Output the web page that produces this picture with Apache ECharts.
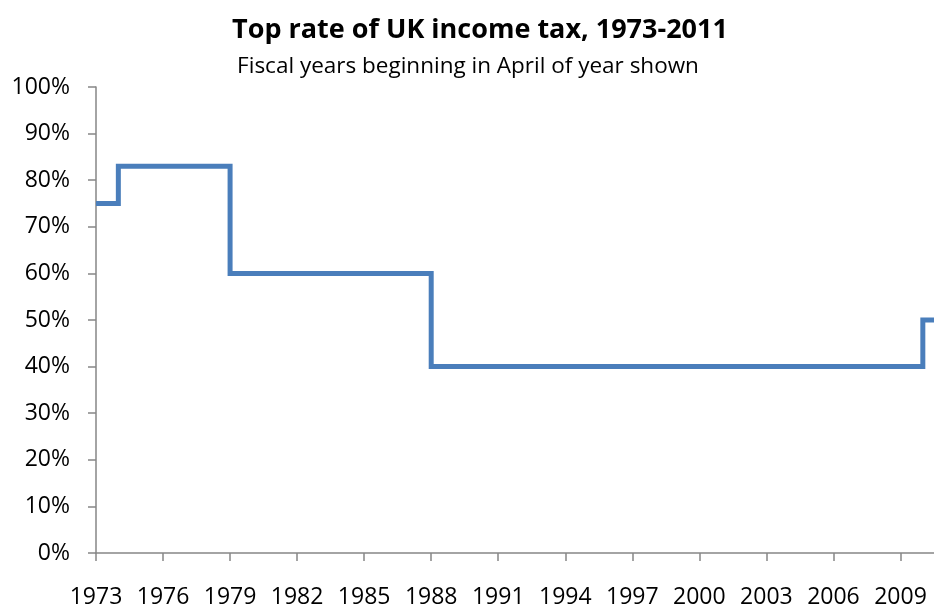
<!DOCTYPE html>
<html>
<head>
<meta charset="utf-8">
<script src="https://cdn.jsdelivr.net/npm/echarts@6/dist/echarts.min.js"></script>
<style>
html,body{margin:0;padding:0;background:#fff;}
#chart{width:934px;height:609px;}
</style>
</head>
<body>
<div id="chart"></div>
<script>
const titleText = 'Top rate of UK income tax, 1973-2011';
const subtitleText = 'Fiscal years beginning in April of year shown';
const years = [1973,1974,1975,1976,1977,1978,1979,1980,1981,1982,1983,1984,1985,1986,1987,1988,1989,1990,1991,1992,1993,1994,1995,1996,1997,1998,1999,2000,2001,2002,2003,2004,2005,2006,2007,2008,2009,2010,2011];
const topRate = [75,83,83,83,83,83,60,60,60,60,60,60,60,60,60,40,40,40,40,40,40,40,40,40,40,40,40,40,40,40,40,40,40,40,40,40,40,50,50];
const yTicks = [0,10,20,30,40,50,60,70,80,90,100];

const font = '"Open Sans", "Noto Sans", sans-serif';
const chart = echarts.init(document.getElementById('chart'));
chart.setOption({
  animation: false,
  backgroundColor: '#ffffff',
  title: [
    {text: titleText, left: 475, top: 12, textAlign: 'center',
     textStyle: {fontFamily: font, fontWeight: 'bold', fontSize: 27, color: '#000'}},
    {text: subtitleText, left: 463, top: 50, textAlign: 'center',
     textStyle: {fontFamily: font, fontWeight: 'normal', fontSize: 22.5, color: '#000'}}
  ],
  grid: {left: 96, right: 0, top: 87, bottom: 53, containLabel: false},
  xAxis: {
    type: 'value', min: 1973, max: 2010.5, interval: 3,
    axisLine: {show: true, lineStyle: {color: '#868686', width: 1.5}},
    axisTick: {show: true, length: 8, lineStyle: {color: '#868686', width: 1.5}},
    splitLine: {show: false},
    axisLabel: {showMaxLabel: false, margin: 33, fontFamily: font, fontSize: 23, color: '#000',
      formatter: v => Number.isInteger(v) ? String(v) : ''}
  },
  yAxis: {
    type: 'value', min: 0, max: 100, interval: 10,
    axisLine: {show: true, lineStyle: {color: '#868686', width: 1.5}},
    axisTick: {show: true, length: 8, lineStyle: {color: '#868686', width: 1.5}},
    splitLine: {show: false},
    axisLabel: {margin: 26, fontFamily: font, fontSize: 23, color: '#000',
      formatter: v => yTicks.includes(v) ? v + '%' : ''}
  },
  series: [{
    type: 'line', step: 'end', showSymbol: false,
    data: years.map((y, i) => [y, topRate[i]]),
    lineStyle: {color: '#4a7ebb', width: 5, join: 'miter'},
    itemStyle: {color: '#4a7ebb'}
  }]
});
</script>
</body>
</html>
